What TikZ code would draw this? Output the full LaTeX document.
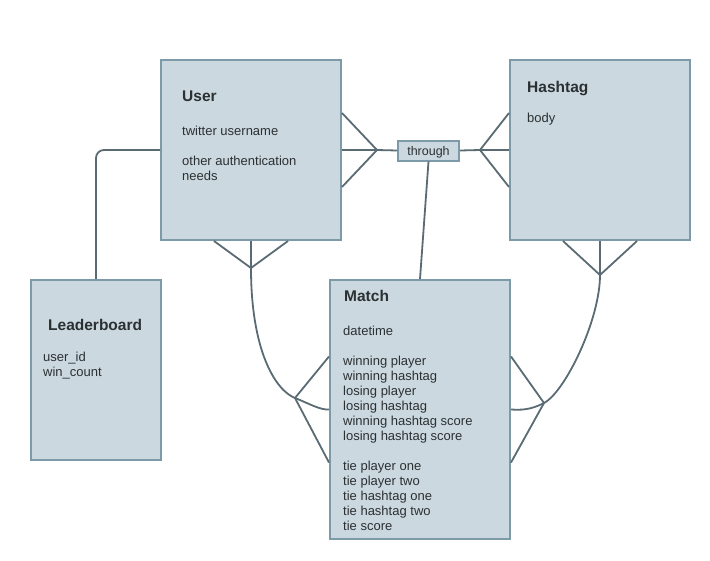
\documentclass[tikz,border=0pt]{standalone}
\usepackage{fontspec}
\setmainfont{Liberation Sans}
\usetikzlibrary{calc}

\definecolor{boxfill}{HTML}{CBD8DF}
\definecolor{boxedge}{HTML}{7D9AA9}
\definecolor{wirecol}{HTML}{5A6B73}
\definecolor{ink}{HTML}{2B3033}

\begin{document}
\begin{tikzpicture}
    [x=1pt,y=-1pt,
      entity/.style={rectangle,draw=boxedge,fill=boxfill,line width=2pt,inner sep=0pt},
      title/.style={anchor=base west,inner sep=0pt,text=ink,
        font=\fontsize{15.5}{18}\selectfont\bfseries},
      attrs/.style={anchor=base west,inner sep=0pt,text=ink,align=left,
        font=\fontsize{13}{15}\selectfont},
      wire/.style={draw=wirecol,line width=1.8pt}
    ]
    \useasboundingbox (0,0) rectangle (710,560);

    \node [entity,minimum width=180pt,minimum height=180pt] (user) at (251,150) {};
    \node [entity,minimum width=180pt,minimum height=180pt] (hashtag) at (600,150) {};
    \node [entity,minimum width=130pt,minimum height=180pt] (board) at (96,370) {};
    \node [entity,minimum width=180pt,minimum height=259pt] (match) at (420,409.5) {};
    \node [entity,minimum width=61pt,minimum height=20pt,text=ink,text depth=0pt,
      font=\fontsize{12.5}{15}\selectfont] (through) at (428.5,150.5) {through};

    % attrs are placed by the baseline of their last line
    \node [title] (userTitle) at (182,101) {User};
    \node [attrs] (userAttrs) at (182,180) {twitter username\\[15pt]
      other authentication\\needs};
    \node [title] (hashtagTitle) at (527,92) {Hashtag};
    \node [attrs] (hashtagAttrs) at (527,122) {body};
    \node [title] (boardTitle) at (48,330) {Leaderboard};
    \node [attrs] (boardAttrs) at (43,376) {user\_id\\win\_count};
    \node [title] (matchTitle) at (344,301) {Match};
    \node [attrs] (matchAttrs) at (343,530) {datetime\\[15pt]
      winning player\\winning hashtag\\losing player\\losing hashtag\\
      winning hashtag score\\losing hashtag score\\[15pt]
      tie player one\\tie player two\\tie hashtag one\\tie hashtag two\\tie score};

    \coordinate (uThrough) at (377,150);
    \coordinate (hThrough) at (480,150);
    \coordinate (uMatch) at (251,268);
    \coordinate (hMatch) at (600,275);
    \coordinate (mUser) at (295,398);
    \coordinate (mHashtag) at (544,403);

    \draw [wire,rounded corners=8pt] (user.west) -| (board.north);

    \draw [wire] ($(user.east)+(0,-37)$) -- (uThrough) -- ($(user.east)+(0,37)$);
    \draw [wire] (user.east) -- (uThrough) -- (through.west);
    \draw [wire] ($(hashtag.west)+(0,-37)$) -- (hThrough) -- ($(hashtag.west)+(0,37)$);
    \draw [wire] (hashtag.west) -- (hThrough) -- (through.east);
    \draw [wire] (through.south) -- (match.north);

    \draw [wire] ($(user.south)+(-37,0)$) -- (uMatch) -- ($(user.south)+(37,0)$);
    \draw [wire] ($(hashtag.south)+(-37,0)$) -- (hMatch) -- ($(hashtag.south)+(37,0)$);
    \draw [wire] ($(match.west)+(0,-53)$) -- (mUser) -- ($(match.west)+(0,53)$);
    \draw [wire] ($(match.east)+(0,-53)$) -- (mHashtag) -- ($(match.east)+(0,53)$);

    \draw [wire] (user.south) -- (uMatch)
      .. controls (251,350) and (275,390) .. (mUser)
      .. controls (310,404) and (320,410) .. (match.west);
    \draw [wire] (hashtag.south) -- (hMatch)
      .. controls (600,320) and (565,392) .. (mHashtag)
      .. controls (530,410.3) and (520,410) .. (match.east);
  \end{tikzpicture}
\end{document}
